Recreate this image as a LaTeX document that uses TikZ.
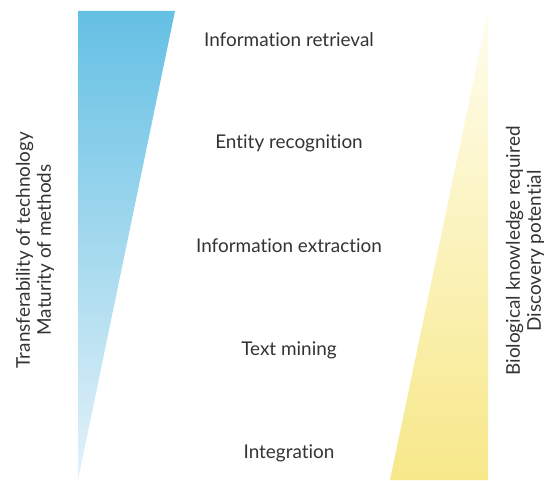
\documentclass[tikz,border=0pt]{standalone}
\usepackage{fontspec}
\setmainfont{Lato}[Ligatures={NoCommon,NoRare}]
\begin{document}
\begin{tikzpicture}[x=1bp,y=-1bp,
  lbl/.style={text=black!80, font=\fontsize{19}{21}\selectfont, inner sep=0pt},
  side/.style={lbl, rotate=90, align=center}]
\useasboundingbox (0,0) rectangle (559,481);
\definecolor{bluetop}{RGB}{100,192,228}
\definecolor{bluebot}{RGB}{228,242,249}
\definecolor{yeltop}{RGB}{255,253,238}
\definecolor{yelbot}{RGB}{247,232,138}
\shade[top color=bluetop, bottom color=bluebot] (78,11) -- (175,11) -- (78,480) -- cycle;
\shade[top color=yeltop, bottom color=yelbot] (488,11) -- (488,480) -- (390,480) -- cycle;
\node[lbl] (ir) at (289,40) {Information retrieval};
\node[lbl] (er) at (289,143) {Entity recognition};
\node[lbl] (ie) at (289,246) {Information extraction};
\node[lbl] (tm) at (289,350) {Text mining};
\node[lbl] (in) at (289,453) {Integration};
\node[side] (left) at (35,250) {Transferability of technology\\Maturity of methods};
\node[side] (right) at (525,251) {Biological knowledge required\\Discovery potential};
\end{tikzpicture}
\end{document}
